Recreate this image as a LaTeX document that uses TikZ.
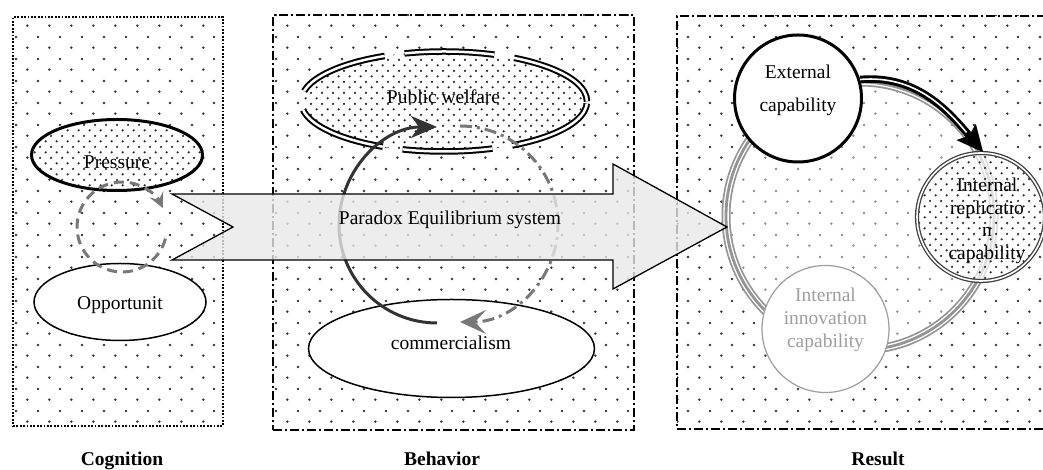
\documentclass[tikz,border=0pt]{standalone}
\usepackage{fontspec}
\setmainfont{Liberation Serif}
\usetikzlibrary{patterns,patterns.meta,arrows.meta,shapes.geometric}
\pgfdeclarepattern{
  name=sparsedots,
  type=uncolored,
  bottom left={\pgfpoint{0pt}{0pt}},
  top right={\pgfpoint{21.7pt}{21.7pt}},
  tile size={\pgfpoint{21.7pt}{21.7pt}},
  code={
    \pgfpathcircle{\pgfpoint{5.4pt}{5.4pt}}{1.4pt}
    \pgfpathcircle{\pgfpoint{16.25pt}{16.25pt}}{1.4pt}
    \pgfusepath{fill}
  }
}
\pgfdeclarepattern{
  name=densedots,
  type=uncolored,
  bottom left={\pgfpoint{0pt}{0pt}},
  top right={\pgfpoint{10.85pt}{10.85pt}},
  tile size={\pgfpoint{10.85pt}{10.85pt}},
  code={
    \pgfpathcircle{\pgfpoint{2.7pt}{2.7pt}}{1.25pt}
    \pgfpathcircle{\pgfpoint{8.12pt}{8.12pt}}{1.25pt}
    \pgfusepath{fill}
  }
}
\definecolor{ringgray}{gray}{0.58}
\definecolor{innergray}{gray}{0.62}
\definecolor{arrowfill}{gray}{0.91}
\definecolor{dashgray}{gray}{0.47}
\definecolor{arcdark}{gray}{0.2}
\begin{document}
\begin{tikzpicture}[x=1pt,y=1pt,
  txt/.style={font=\fontsize{19.5pt}{23pt}\selectfont, inner sep=0pt, align=center},
  lbl/.style={font=\fontsize{19.5pt}{23pt}\selectfont\bfseries, inner sep=0pt, anchor=base},
  panel/.style={rectangle, inner sep=0pt, pattern=sparsedots, pattern color=black!80},
  cogborder/.style={line width=2pt, dash pattern=on 1.8pt off 1.6pt},
  dashdotborder/.style={line width=2.2pt, dash pattern=on 9pt off 3pt on 2pt off 3pt},
  dense/.style={pattern=densedots, pattern color=black!85},
]
\useasboundingbox (0,0) rectangle (1043,470);

% panels
\node[panel, draw, cogborder, minimum width=210, minimum height=409] (cog) at (118,248.5) {};
\node[panel, draw, dashdotborder, minimum width=361, minimum height=415] (beh) at (453.5,247.5) {};
\node[panel, draw, dashdotborder, minimum width=369, minimum height=413] (res) at (861.5,247.5) {};

\node[lbl] (coglbl) at (122,4) {Cognition};
\node[lbl] (behlbl) at (442,4) {Behavior};
\node[lbl] (reslbl) at (878,4) {Result};

% cognition
\node[ellipse, draw, line width=3pt, minimum width=171, minimum height=71, preaction={fill=white}, dense] (press) at (117,315) {};
\node[txt] (presst) at (117,308) {Pressure};
\node[ellipse, draw, line width=1.5pt, fill=white, minimum width=172, minimum height=77] (opp) at (120,168) {};
\node[txt] (oppt) at (120,165) {Opportunit};
\coordinate (cogc) at (122,243);
\draw[dashgray, line width=3pt, dash pattern=on 10pt off 6pt, -{Stealth[length=15pt,width=15pt,inset=6pt]}] ([shift={(345:45)}]cogc) arc[start angle=345, end angle=25, radius=45];

% behavior
\node[ellipse, draw, double, line width=2pt, double distance=2.5pt, dash pattern=on 90pt off 20pt, preaction={fill=white}, dense, minimum width=286, minimum height=100] (pw) at (444,368.5) {};
\node[txt] (pwt) at (443.5,373) {Public welfare};
\node[ellipse, draw, line width=1.5pt, fill=white, minimum width=286, minimum height=98] (comm) at (451.5,121.5) {};
\node[txt] (commt) at (451,127) {commercialism};
\coordinate (dkc) at (437,245);
\draw[arcdark, line width=3pt, -{Stealth[length=26pt,width=22pt,inset=8pt]}] ([shift={(270:98)}]dkc) arc[start angle=270, end angle=90, radius=98];
\coordinate (gyc) at (460,246);
\draw[dashgray, line width=3pt, dash pattern=on 12pt off 5pt on 3pt off 5pt, -{Stealth[length=26pt,width=24pt,inset=11pt]}] ([shift={(90:98)}]gyc) arc[start angle=90, end angle=-90, radius=98];

% result
\coordinate (ringc) at (860,254);
\fill[white, fill opacity=0.45] (ringc) circle[radius=130];
\draw[ringgray, line width=9pt] (ringc) circle[radius=134];
\draw[white, line width=5.5pt] (ringc) circle[radius=134];
\draw[ringgray, line width=2.8pt] (ringc) circle[radius=134];

\node[circle, draw, line width=3pt, fill=white, minimum size=127] (ext) at (798,371.5) {};
\node[txt, font=\fontsize{19.5pt}{33pt}\selectfont] (extt) at (798,379.5) {External\\capability};
\node[circle, draw=innergray, line width=1.2pt, fill=white, minimum size=127] (inn) at (825.5,141) {};
\node[txt, text=innergray] (innt) at (825.5,150) {Internal\\innovation\\capability};
\node[circle, draw=black!75, double, line width=1.3pt, double distance=1.6pt, preaction={fill=white, fill opacity=0.7}, dense, minimum size=128] (rep) at (981,253) {};
\node[txt, font=\fontsize{19.5pt}{22.5pt}\selectfont] (rept) at (987,249) {Internal\\replicatio\\n\\capability};

\draw[black, line width=7.5pt, -{Stealth[length=26pt,width=24pt,inset=4pt]}] (ext.17) to[out=5,in=130] (rep.88);
\draw[white, line width=1.6pt, shorten >=26pt] (ext.17) to[out=5,in=130] (rep.88);

% big arrow
\draw[line width=1.3pt, fill=arrowfill, fill opacity=0.8] (172,276) -- (613,276) -- (613,306) -- (727,243) -- (613,181) -- (613,210) -- (172,210) -- (233,243) -- cycle;
\node[txt] (pes) at (450,250) {Paradox Equilibrium system};
\end{tikzpicture}
\end{document}
